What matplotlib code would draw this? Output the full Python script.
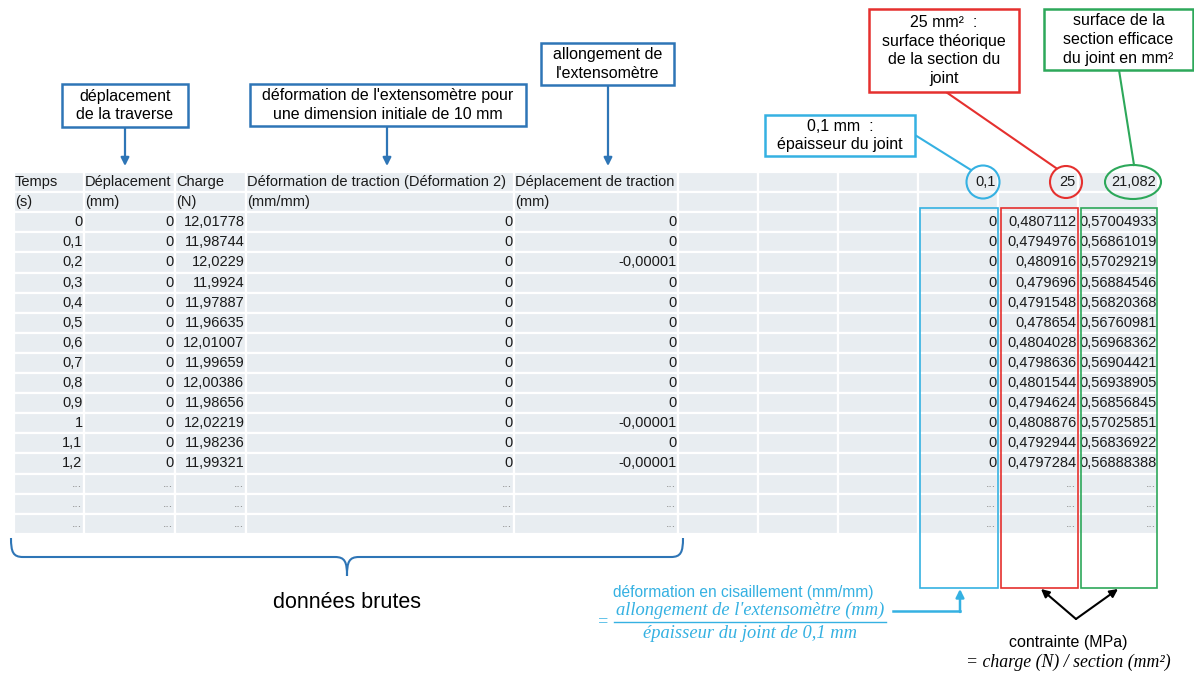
import matplotlib.pyplot as plt
from matplotlib.patches import Rectangle, Ellipse, PathPatch
from matplotlib.path import Path

plt.rcParams['font.family'] = ['Liberation Sans', 'DejaVu Sans']

# données du tableau
temps = [0, 0.1, 0.2, 0.3, 0.4, 0.5, 0.6, 0.7, 0.8, 0.9, 1, 1.1, 1.2]
deplacement = [0, 0, 0, 0, 0, 0, 0, 0, 0, 0, 0, 0, 0]
charge = [12.01778, 11.98744, 12.0229, 11.9924, 11.97887, 11.96635, 12.01007,
          11.99659, 12.00386, 11.98656, 12.02219, 11.98236, 11.99321]
deformation = [0, 0, 0, 0, 0, 0, 0, 0, 0, 0, 0, 0, 0]
depl_traction = [0, 0, -0.00001, 0, 0, 0, 0, 0, 0, 0, -0.00001, 0, -0.00001]
cisaillement = [0, 0, 0, 0, 0, 0, 0, 0, 0, 0, 0, 0, 0]
contrainte_25 = [0.4807112, 0.4794976, 0.480916, 0.479696, 0.4791548, 0.478654,
                 0.4804028, 0.4798636, 0.4801544, 0.4794624, 0.4808876,
                 0.4792944, 0.4797284]
contrainte_eff = [0.57004933, 0.56861019, 0.57029219, 0.56884546, 0.56820368,
                  0.56760981, 0.56968362, 0.56904421, 0.56938905, 0.56856845,
                  0.57025851, 0.56836922, 0.56888388]
parametres = [0.1, 25, 21.082]

entetes = ['Temps', 'Déplacement', 'Charge',
           'Déformation de traction (Déformation 2)', 'Déplacement de traction']
unites = ['(s)', '(mm)', '(N)', '(mm/mm)', '(mm)']


def fmt(v):
    s = f'{v:.8f}'.rstrip('0').rstrip('.')
    return s.replace('.', ',')


DARK = '#2E75B6'
LIGHT = '#35B1E2'
RED = '#E5302E'
GREEN = '#2DA85A'
CELL = '#E8EDF1'

fig = plt.figure(figsize=(11.94, 6.75), dpi=100)
ax = fig.add_axes([0, 0, 1, 1])
ax.set_xlim(0, 1194)
ax.set_ylim(675, 0)
ax.axis('off')

# grille du tableur
col_edges = [14, 84, 175, 246, 514, 678, 758, 838, 918, 998, 1078, 1158]
top, rh = 172, 20.1
n_rows = 2 + len(temps) + 3
for c in range(len(col_edges) - 1):
    for r in range(n_rows):
        ax.add_patch(Rectangle((col_edges[c], top + r * rh),
                               col_edges[c + 1] - col_edges[c], rh,
                               fc=CELL, ec='white', lw=1.6, zorder=1))


def yc(r):
    return top + (r + 0.5) * rh


fs = 10.5
for c, (h, u) in enumerate(zip(entetes, unites)):
    ax.text(col_edges[c] + 1, yc(0), h, fontsize=fs, va='center', ha='left',
            color='#1a1a1a', zorder=3)
    ax.text(col_edges[c] + 1, yc(1), u, fontsize=fs, va='center', ha='left',
            color='#1a1a1a', zorder=3)
for k, p in enumerate(parametres):
    ax.text(col_edges[9 + k] - 2, yc(0), fmt(p), fontsize=fs, va='center',
            ha='right', color='#1a1a1a', zorder=3)

colonnes = {0: temps, 1: deplacement, 2: charge, 3: deformation,
            4: depl_traction, 8: cisaillement, 9: contrainte_25, 10: contrainte_eff}
for c, vals in colonnes.items():
    for i, v in enumerate(vals):
        ax.text(col_edges[c + 1] - 1.5, yc(2 + i), fmt(v), fontsize=fs,
                va='center', ha='right', color='#1a1a1a', zorder=3)
    for j in range(3):
        ax.text(col_edges[c + 1] - 2, yc(2 + len(vals) + j), '...', fontsize=9,
                color='#8a8a8a', va='center', ha='right', zorder=3)

# cadres colorés des colonnes calculées
for x0, x1, col in [(920, 998, LIGHT), (1001, 1078, RED), (1081, 1157, GREEN)]:
    ax.add_patch(Rectangle((x0, 208), x1 - x0, 380, fill=False, ec=col,
                           lw=1.2, zorder=4))

# cercles autour des paramètres
ax.add_patch(Ellipse((983, 182), 33, 33, fill=False, ec=LIGHT, lw=1.5, zorder=4))
ax.add_patch(Ellipse((1066, 182), 32, 32, fill=False, ec=RED, lw=1.5, zorder=4))
ax.add_patch(Ellipse((1133, 182), 56, 34, fill=False, ec=GREEN, lw=1.5, zorder=4))


def boite(x0, y0, x1, y1, txt, col, size=11.5):
    ax.add_patch(Rectangle((x0, y0), x1 - x0, y1 - y0, fc='white', ec=col,
                           lw=1.8, zorder=5))
    ax.text((x0 + x1) / 2, (y0 + y1) / 2, txt, ha='center', va='center',
            fontsize=size, linespacing=1.3, zorder=6)


# annotations du haut
boite(62, 84, 188, 127, 'déplacement\nde la traverse', DARK)
boite(250, 84, 526, 126, "déformation de l'extensomètre pour\nune dimension initiale de 10 mm", DARK)
boite(541, 43, 674, 85, "allongement de\nl'extensomètre", DARK)
for x, y0 in [(125, 127), (387, 126), (608, 85)]:
    ax.annotate('', xy=(x, 166), xytext=(x, y0),
                arrowprops=dict(arrowstyle='-|>', color=DARK, lw=1.6,
                                mutation_scale=12, shrinkA=0, shrinkB=0))

boite(765, 115, 915, 156, '0,1 mm  :\népaisseur du joint', LIGHT)
boite(869, 9, 1019, 92, '25 mm²  :\nsurface théorique\nde la section du\njoint', RED)
boite(1044, 9, 1193, 70, 'surface de la\nsection efficace\ndu joint en mm²', GREEN)
ax.plot([915, 971], [135, 170], color=LIGHT, lw=1.5, zorder=4)
ax.plot([946, 1056], [92, 168], color=RED, lw=1.5, zorder=4)
ax.plot([1119, 1134], [70, 165], color=GREEN, lw=1.5, zorder=4)

# accolade "données brutes"
L, R, M = 11, 683, 347
verts = [(L, 538), (L, 552), (L + 2, 557), (L + 12, 557),
         (M - 12, 557), (M - 2, 557), (M, 562), (M, 576),
         (M, 562), (M + 2, 557), (M + 12, 557),
         (R - 12, 557), (R - 2, 557), (R, 552), (R, 538)]
codes = [Path.MOVETO, Path.CURVE4, Path.CURVE4, Path.CURVE4,
         Path.LINETO, Path.CURVE4, Path.CURVE4, Path.CURVE4,
         Path.CURVE4, Path.CURVE4, Path.CURVE4,
         Path.LINETO, Path.CURVE4, Path.CURVE4, Path.CURVE4]
ax.add_patch(PathPatch(Path(verts, codes), fill=False, ec=DARK, lw=1.5, zorder=4))
ax.text(M, 603, 'données brutes', fontsize=15.5, ha='center', va='center')

# formule de la déformation en cisaillement
ax.text(743, 593, 'déformation en cisaillement (mm/mm)', color=LIGHT,
        fontsize=11.2, ha='center', va='center')
serif = dict(family=['Liberation Serif', 'DejaVu Serif'], style='italic')
ax.text(603, 622, '=', color=LIGHT, fontsize=13, ha='center', va='center', **serif)
ax.text(750, 610, "allongement de l'extensomètre (mm)", color=LIGHT, fontsize=13.3,
        ha='center', va='center', **serif)
ax.plot([614, 886], [622, 622], color=LIGHT, lw=1)
ax.text(750, 634, 'épaisseur du joint de 0,1 mm', color=LIGHT, fontsize=13.3,
        ha='center', va='center', **serif)
ax.plot([893, 960], [611, 611], color=LIGHT, lw=1.8)
ax.annotate('', xy=(960, 589), xytext=(960, 612),
            arrowprops=dict(arrowstyle='-|>', color=LIGHT, lw=1.8,
                            mutation_scale=12, shrinkA=0, shrinkB=0))

# contrainte
for tx in [1041, 1118]:
    ax.annotate('', xy=(tx, 589), xytext=(1076, 619),
                arrowprops=dict(arrowstyle='-|>', color='black', lw=1.5,
                                mutation_scale=12, shrinkA=0, shrinkB=0))
ax.text(1068, 643, 'contrainte (MPa)', fontsize=11.5, ha='center', va='center')
ax.text(1068, 662, '= charge (N) / section (mm²)', fontsize=12.8, ha='center',
        va='center', **serif)

plt.savefig('out.png', dpi=100)
